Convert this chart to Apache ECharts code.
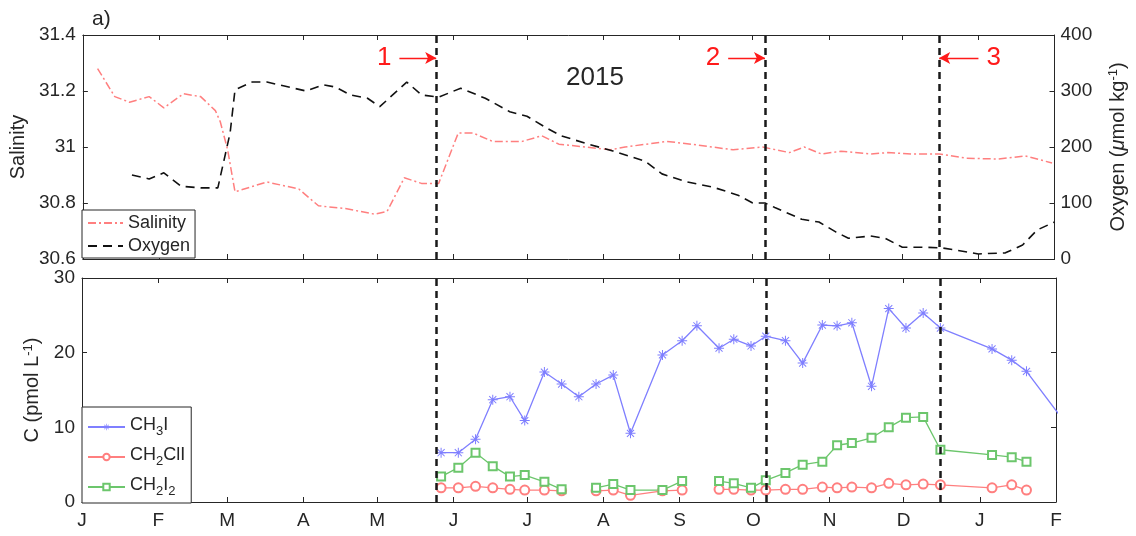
<!DOCTYPE html>
<html>
<head>
<meta charset="utf-8">
<script src="https://cdn.jsdelivr.net/npm/echarts@6/dist/echarts.min.js"></script>
<style>
html, body { margin: 0; padding: 0; background: #fff; }
#chart { width: 1136px; height: 536px; }
</style>
</head>
<body>
<div id="chart"></div>
<script>
// month letters for the x axis, Jan 2015 .. Feb 2016
const months = ['J', 'F', 'M', 'A', 'M', 'J', 'J', 'A', 'S', 'O', 'N', 'D', 'J', 'F'];

// salinity record (top panel, left axis)
const salDates = ['2015-01-07', '2015-01-14', '2015-01-20', '2015-01-28', '2015-02-03', '2015-02-11', '2015-02-18',
  '2015-02-24', '2015-02-26', '2015-03-01', '2015-03-04', '2015-03-17', '2015-03-30', '2015-04-07', '2015-04-18',
  '2015-04-30', '2015-05-05', '2015-05-12', '2015-05-19', '2015-05-26', '2015-06-03', '2015-06-09', '2015-06-17',
  '2015-06-29', '2015-07-07', '2015-07-14', '2015-07-25', '2015-08-04', '2015-08-10', '2015-08-27', '2015-09-06',
  '2015-09-23', '2015-10-05', '2015-10-16', '2015-10-22', '2015-10-29', '2015-11-06', '2015-11-18', '2015-11-25',
  '2015-12-05', '2015-12-16', '2015-12-27', '2016-01-09', '2016-01-20', '2016-01-31'];
const salVals = [31.28, 31.18, 31.16, 31.18, 31.14, 31.19, 31.18,
  31.13, 31.09, 30.99, 30.84, 30.875, 30.85, 30.79, 30.78,
  30.76, 30.77, 30.89, 30.87, 30.87, 31.05, 31.05, 31.02,
  31.02, 31.04, 31.01, 31.0, 30.99, 31.0, 31.02, 31.01,
  30.99, 31.0, 30.98, 31.0, 30.975, 30.985, 30.975, 30.98,
  30.975, 30.975, 30.96, 30.957, 30.968, 30.943];

// oxygen record (top panel, right axis)
const oxyDates = ['2015-01-21', '2015-01-28', '2015-02-03', '2015-02-10', '2015-02-18', '2015-02-25', '2015-03-02',
  '2015-03-04', '2015-03-11', '2015-03-17', '2015-04-02', '2015-04-09', '2015-04-14', '2015-04-20', '2015-04-27',
  '2015-05-02', '2015-05-13', '2015-05-19', '2015-05-26', '2015-06-04', '2015-06-14', '2015-06-24', '2015-07-01',
  '2015-07-09', '2015-07-15', '2015-07-26', '2015-08-05', '2015-08-18', '2015-08-25', '2015-09-04', '2015-09-15',
  '2015-09-25', '2015-10-01', '2015-10-06', '2015-10-10', '2015-10-21', '2015-10-28', '2015-11-04', '2015-11-09',
  '2015-11-18', '2015-11-24', '2015-12-01', '2015-12-09', '2015-12-17', '2016-01-01', '2016-01-12', '2016-01-19',
  '2016-01-25', '2016-02-01'];
const oxyVals = [150, 143, 154, 130, 127, 127, 225,
  302, 316, 316, 300, 311, 307, 293, 287,
  272, 316, 293, 289, 305, 287, 263, 255,
  234, 220, 205, 193, 175, 152, 138, 128,
  114, 100, 100, 92, 71, 66, 48, 37,
  41, 37, 21, 21, 20, 9, 11, 25,
  52, 66];

// halocarbon samples (bottom panel)
const sampleDates = ['2015-05-27', '2015-06-03', '2015-06-10', '2015-06-17', '2015-06-24', '2015-06-30', '2015-07-08',
  '2015-07-15', '2015-07-22', '2015-07-29', '2015-08-05', '2015-08-12', '2015-08-25', '2015-09-02', '2015-09-08',
  '2015-09-17', '2015-09-23', '2015-09-30', '2015-10-06', '2015-10-14', '2015-10-21', '2015-10-29', '2015-11-04',
  '2015-11-10', '2015-11-18', '2015-11-25', '2015-12-02', '2015-12-09', '2015-12-16', '2016-01-06', '2016-01-14',
  '2016-01-20', '2016-02-05'];
const ch3i = [6.6, 6.6, 8.4, 13.7, 14.1, 10.9, 17.4,
  15.8, 14.1, 15.8, 17.0, 9.2, 19.7, 21.6, 23.6,
  20.6, 21.8, 20.9, 22.2, 21.6, 18.6, 23.7, 23.6,
  24.0, 15.5, 25.9, 23.3, 25.3, 23.3, 20.5, 19.0,
  17.5, 10.5];
const ch2cli = [1.9, 1.9, 2.1, 1.9, 1.7, 1.6, 1.6,
  1.5, null, 1.5, 1.6, 0.9, 1.5, 1.6, null,
  1.7, 1.7, 1.6, 1.6, 1.7, 1.7, 2.0, 1.9,
  2.0, 1.9, 2.5, 2.3, 2.4, 2.3, 1.9, 2.3,
  1.6, null];
const ch2i2 = [3.4, 4.6, 6.6, 4.8, 3.4, 3.6, 2.7,
  1.7, null, 1.9, 2.4, 1.6, 1.6, 2.8, null,
  2.8, 2.5, 1.9, 2.9, 3.9, 5.0, 5.4, 7.6,
  7.9, 8.6, 10.0, 11.3, 11.4, 7.0, 6.3, 6.0,
  5.4, null];

// dates of the three marked events
const eventDates = ['2015-05-25', '2015-10-06', '2015-12-16'];
// arrows pointing at them: start date, label
const arrowStarts = ['2015-05-10', '2015-09-21', '2016-01-01'];
const arrowLabels = ['1', '2', '3'];
const arrowLevel = 359; // on the oxygen scale

// dates -> local timestamps, x axis is a plain value axis in ms
const ts = s => { const p = s.split('-'); return +new Date(+p[0], +p[1] - 1, +p[2]); };
const zip = (a, b) => a.map((d, i) => [ts(d), b[i]]);
const monthTicks = months.map((m, i) => +new Date(2015, i, 1));
const xMin = monthTicks[0];
const xMax = monthTicks[monthTicks.length - 1];

const FONT = 'Liberation Sans, Arial, sans-serif';
const INK = '#262626';
const BLUE = '#7f7fff', RED = '#ff7f7f', GREEN = '#6cc66c';

// asterisk marker (plus + cross)
const asterisk = 'path://M-1,-10L1,-10L1,10L-1,10Z M-10,-1L10,-1L10,1L-10,1Z ' +
  'M-6.36,-7.78L7.78,6.36L6.36,7.78L-7.78,-6.36Z M-7.78,6.36L6.36,-7.78L7.78,-6.36L-6.36,7.78Z';

function xAxisFor(gridIndex, position, labels) {
  return {
    type: 'value', gridIndex: gridIndex, position: position, min: xMin, max: xMax,
    axisLine: { show: true, onZero: false, lineStyle: { color: INK, width: 1 } },
    axisTick: { show: true, inside: true, length: 5, customValues: monthTicks, lineStyle: { color: INK } },
    axisLabel: {
      show: labels, customValues: monthTicks, margin: 9, fontSize: 19, fontFamily: FONT, color: INK,
      formatter: v => months[monthTicks.indexOf(v)] || ''
    },
    splitLine: { show: false }
  };
}

const yBase = {
  axisLine: { show: true, onZero: false, lineStyle: { color: INK } },
  axisTick: { show: true, inside: true, length: 5, lineStyle: { color: INK } },
  splitLine: { show: false }
};

const chart = echarts.init(document.getElementById('chart'));

chart.setOption({
  animation: false,
  textStyle: { fontFamily: FONT },
  grid: [
    { left: 82, top: 35, width: 974, height: 224 },
    { left: 82, top: 278, width: 974, height: 224 }
  ],
  xAxis: [
    xAxisFor(0, 'bottom', false),
    xAxisFor(0, 'top', false),
    xAxisFor(1, 'bottom', true),
    xAxisFor(1, 'top', false)
  ],
  yAxis: [
    Object.assign({}, yBase, {
      type: 'value', gridIndex: 0, position: 'left', min: 30.6, max: 31.4, interval: 0.2,
      name: 'Salinity', nameLocation: 'middle', nameGap: 50, nameRotate: 90,
      nameTextStyle: { fontSize: 20, color: INK, fontFamily: FONT },
      axisLabel: { fontSize: 19, color: INK, margin: 7, formatter: v => String(+v.toFixed(1)) }
    }),
    Object.assign({}, yBase, {
      type: 'value', gridIndex: 0, position: 'right', min: 0, max: 400, interval: 100,
      name: 'Oxygen ({i|μ}mol kg{sup|-1})', nameLocation: 'middle', nameGap: 52, nameRotate: 90,
      nameTextStyle: {
        fontSize: 20, color: INK, fontFamily: FONT,
        rich: {
          i: { fontSize: 20, fontStyle: 'italic', color: INK, fontFamily: FONT },
          sup: { fontSize: 13, color: INK, fontFamily: FONT, verticalAlign: 'top', padding: [0, 0, 10, 0] }
        }
      },
      axisLabel: { fontSize: 19, color: INK, margin: 6 }
    }),
    Object.assign({}, yBase, {
      type: 'value', gridIndex: 1, position: 'left', min: 0, max: 30, interval: 10,
      name: 'C (pmol L{sup|-1})', nameLocation: 'middle', nameGap: 36, nameRotate: 90,
      nameTextStyle: {
        fontSize: 20, color: INK, fontFamily: FONT,
        rich: { sup: { fontSize: 13, color: INK, fontFamily: FONT, verticalAlign: 'top', padding: [0, 0, 10, 0] } }
      },
      axisLabel: { fontSize: 19, color: INK, margin: 7 }
    }),
    Object.assign({}, yBase, {
      type: 'value', gridIndex: 1, position: 'right', min: 0, max: 30, interval: 10,
      axisLabel: { show: false }
    })
  ],
  legend: [
    {
      data: [
        { name: 'Salinity', itemStyle: { opacity: 0 } },
        { name: 'Oxygen', itemStyle: { opacity: 0 } }
      ],
      orient: 'vertical', left: 82, top: 210,
      itemWidth: 35, itemHeight: 12, itemGap: 5, padding: [4, 5, 3, 5],
      borderColor: INK, borderWidth: 1, backgroundColor: '#fff',
      textStyle: { fontSize: 18, color: INK, fontFamily: FONT }
    },
    {
      data: ['CH3I', 'CH2ClI', 'CH2I2'], orient: 'vertical', left: 82, top: 407,
      itemWidth: 37, itemHeight: 8, itemGap: 8, padding: [9, 6, 5, 5],
      borderColor: INK, borderWidth: 1, backgroundColor: '#fff',
      formatter: n => ({
        CH3I: '{a|CH}{s|3}{a|I}',
        CH2ClI: '{a|CH}{s|2}{a|ClI}',
        CH2I2: '{a|CH}{s|2}{a|I}{s|2}'
      })[n],
      textStyle: {
        color: INK, fontFamily: FONT,
        rich: {
          a: { fontSize: 18, color: INK, fontFamily: FONT, verticalAlign: 'top', lineHeight: 20 },
          s: { fontSize: 13, color: INK, fontFamily: FONT, verticalAlign: 'top', padding: [9, 0, 0, 0] }
        }
      }
    }
  ],
  graphic: [
    { type: 'text', left: 92, top: 9, style: { text: 'a)', fontSize: 21, fill: INK, fontFamily: FONT } },
    {
      type: 'text', x: 595, y: 78,
      style: { text: '2015', fontSize: 26, fill: INK, fontFamily: FONT, align: 'center', verticalAlign: 'middle' }
    }
  ],
  series: [
    {
      name: 'Salinity', type: 'line', xAxisIndex: 0, yAxisIndex: 0,
      data: zip(salDates, salVals), showSymbol: false, symbol: 'none',
      lineStyle: { color: RED, width: 1.5, type: [8, 3, 2, 3] }, itemStyle: { color: RED },
      markLine: {
        silent: true, symbol: 'none', label: { show: false },
        lineStyle: { color: '#1a1a1a', width: 2.5, type: [7, 5] },
        data: eventDates.map(d => ({ xAxis: ts(d) }))
      }
    },
    {
      name: 'Oxygen', type: 'line', xAxisIndex: 0, yAxisIndex: 1,
      data: zip(oxyDates, oxyVals), showSymbol: false, symbol: 'none',
      lineStyle: { color: '#111', width: 1.6, type: [9, 6] }, itemStyle: { color: '#111' },
      markLine: {
        silent: true, symbol: ['none', 'arrow'], symbolSize: [9, 11],
        lineStyle: { color: '#ff1a1a', width: 1.3, type: 'solid' },
        label: {
          show: true, position: 'start', distance: 8, formatter: p => p.name,
          fontSize: 26, color: '#ff1a1a', fontFamily: FONT
        },
        data: arrowStarts.map((d, i) => [
          { name: arrowLabels[i], coord: [ts(d), arrowLevel] },
          { coord: [ts(eventDates[i]), arrowLevel] }
        ])
      }
    },
    {
      name: 'CH3I', type: 'line', xAxisIndex: 2, yAxisIndex: 2,
      data: zip(sampleDates, ch3i), symbol: asterisk, symbolSize: 10,
      lineStyle: { color: BLUE, width: 1.3 }, itemStyle: { color: BLUE },
      markLine: {
        silent: true, symbol: 'none', label: { show: false },
        lineStyle: { color: '#1a1a1a', width: 2.5, type: [7, 5] },
        data: eventDates.map(d => ({ xAxis: ts(d) }))
      }
    },
    {
      name: 'CH2ClI', type: 'line', xAxisIndex: 2, yAxisIndex: 2,
      data: zip(sampleDates, ch2cli), symbol: 'emptyCircle', symbolSize: 9, connectNulls: false,
      lineStyle: { color: RED, width: 1.3 }, itemStyle: { color: RED, borderWidth: 1.2 }
    },
    {
      name: 'CH2I2', type: 'line', xAxisIndex: 2, yAxisIndex: 2,
      data: zip(sampleDates, ch2i2), symbol: 'emptyRect', symbolSize: 8, connectNulls: false,
      lineStyle: { color: GREEN, width: 1.3 }, itemStyle: { color: GREEN, borderWidth: 1.2 }
    }
  ]
});
</script>
</body>
</html>
